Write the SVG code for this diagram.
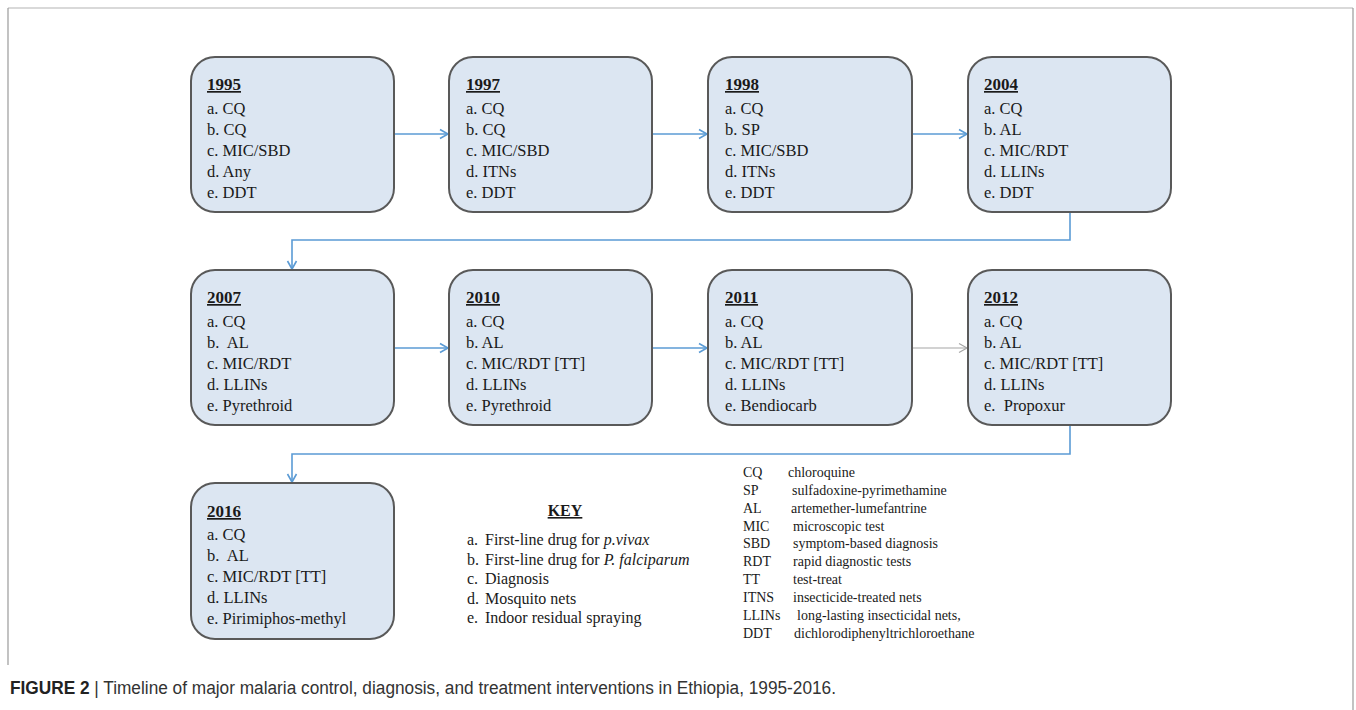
<svg xmlns="http://www.w3.org/2000/svg" width="1356" height="710" viewBox="0 0 1356 710">
<defs>
<style>
.box{fill:#dce6f2;stroke:#595959;stroke-width:2}
.t{font-family:"Liberation Serif","Times New Roman",serif;font-size:16.5px;fill:#1a1a1a;white-space:pre}
.yr{font-family:"Liberation Serif","Times New Roman",serif;font-size:17px;font-weight:bold;text-decoration:underline;fill:#1a1a1a}
.k{font-family:"Liberation Serif","Times New Roman",serif;font-size:16px;fill:#1a1a1a;white-space:pre}
.ab{font-family:"Liberation Serif","Times New Roman",serif;font-size:14px;fill:#1a1a1a}
.c{fill:none;stroke:#5b9bd5;stroke-width:1.6}
.cg{fill:none;stroke:#a6a6a6;stroke-width:1.2}
.cap{font-family:"Liberation Sans",Arial,sans-serif;font-size:18px;fill:#333}
</style>
<marker id="ah" markerWidth="12" markerHeight="12" refX="9" refY="6" orient="auto" markerUnits="userSpaceOnUse">
<path d="M1,1.5 L9,6 L1,10.5" fill="none" stroke="#5b9bd5" stroke-width="1.6"/>
</marker>
<marker id="ahg" markerWidth="12" markerHeight="12" refX="9" refY="6" orient="auto" markerUnits="userSpaceOnUse">
<path d="M1,1.5 L9,6 L1,10.5" fill="none" stroke="#a6a6a6" stroke-width="1.2"/>
</marker>
</defs>
<rect width="1356" height="710" fill="#fff"/>
<g id="frame">
<line x1="8" y1="8" x2="1353" y2="8" stroke="#cccccc" stroke-width="1.5"/>
<line x1="8" y1="8" x2="8" y2="665" stroke="#9a9a9a" stroke-width="1.2"/>
<line x1="1353" y1="8" x2="1353" y2="710" stroke="#9a9a9a" stroke-width="1.2"/>
</g>
<g id="connectors">
<line class="c" x1="394" y1="134" x2="448" y2="134" marker-end="url(#ah)"/>
<line class="c" x1="652" y1="134" x2="707" y2="134" marker-end="url(#ah)"/>
<line class="c" x1="912" y1="134" x2="967" y2="134" marker-end="url(#ah)"/>
<polyline class="c" points="1070,212 1070,240 292,240 292,269" marker-end="url(#ah)"/>
<line class="c" x1="394" y1="348" x2="448" y2="348" marker-end="url(#ah)"/>
<line class="c" x1="652" y1="348" x2="707" y2="348" marker-end="url(#ah)"/>
<line class="cg" x1="912" y1="348" x2="967" y2="348" marker-end="url(#ahg)"/>
<polyline class="c" points="1070,425 1070,454 292,454 292,482" marker-end="url(#ah)"/>
</g>
<g id="n1995">
<rect class="box" x="191" y="57" width="203" height="155" rx="24"/>
<text class="yr" x="207" y="90">1995</text>
<text class="t" x="207" y="114">a. CQ</text>
<text class="t" x="207" y="135">b. CQ</text>
<text class="t" x="207" y="156">c. MIC/SBD</text>
<text class="t" x="207" y="177">d. Any</text>
<text class="t" x="207" y="198">e. DDT</text>
</g>
<g id="n1997">
<rect class="box" x="449" y="57" width="203" height="155" rx="24"/>
<text class="yr" x="466" y="90">1997</text>
<text class="t" x="466" y="114">a. CQ</text>
<text class="t" x="466" y="135">b. CQ</text>
<text class="t" x="466" y="156">c. MIC/SBD</text>
<text class="t" x="466" y="177">d. ITNs</text>
<text class="t" x="466" y="198">e. DDT</text>
</g>
<g id="n1998">
<rect class="box" x="708" y="57" width="204" height="155" rx="24"/>
<text class="yr" x="725" y="90">1998</text>
<text class="t" x="725" y="114">a. CQ</text>
<text class="t" x="725" y="135">b. SP</text>
<text class="t" x="725" y="156">c. MIC/SBD</text>
<text class="t" x="725" y="177">d. ITNs</text>
<text class="t" x="725" y="198">e. DDT</text>
</g>
<g id="n2004">
<rect class="box" x="968" y="57" width="203" height="155" rx="24"/>
<text class="yr" x="984" y="90">2004</text>
<text class="t" x="984" y="114">a. CQ</text>
<text class="t" x="984" y="135">b. AL</text>
<text class="t" x="984" y="156">c. MIC/RDT</text>
<text class="t" x="984" y="177">d. LLINs</text>
<text class="t" x="984" y="198">e. DDT</text>
</g>
<g id="n2007">
<rect class="box" x="191" y="270" width="203" height="155" rx="24"/>
<text class="yr" x="207" y="303">2007</text>
<text class="t" x="207" y="327">a. CQ</text>
<text class="t" x="207" y="348">b.  AL</text>
<text class="t" x="207" y="369">c. MIC/RDT</text>
<text class="t" x="207" y="390">d. LLINs</text>
<text class="t" x="207" y="411">e. Pyrethroid</text>
</g>
<g id="n2010">
<rect class="box" x="449" y="270" width="203" height="155" rx="24"/>
<text class="yr" x="466" y="303">2010</text>
<text class="t" x="466" y="327">a. CQ</text>
<text class="t" x="466" y="348">b. AL</text>
<text class="t" x="466" y="369">c. MIC/RDT [TT]</text>
<text class="t" x="466" y="390">d. LLINs</text>
<text class="t" x="466" y="411">e. Pyrethroid</text>
</g>
<g id="n2011">
<rect class="box" x="708" y="270" width="204" height="155" rx="24"/>
<text class="yr" x="725" y="303">2011</text>
<text class="t" x="725" y="327">a. CQ</text>
<text class="t" x="725" y="348">b. AL</text>
<text class="t" x="725" y="369">c. MIC/RDT [TT]</text>
<text class="t" x="725" y="390">d. LLINs</text>
<text class="t" x="725" y="411">e. Bendiocarb</text>
</g>
<g id="n2012">
<rect class="box" x="968" y="270" width="203" height="155" rx="24"/>
<text class="yr" x="984" y="303">2012</text>
<text class="t" x="984" y="327">a. CQ</text>
<text class="t" x="984" y="348">b. AL</text>
<text class="t" x="984" y="369">c. MIC/RDT [TT]</text>
<text class="t" x="984" y="390">d. LLINs</text>
<text class="t" x="984" y="411">e.  Propoxur</text>
</g>
<g id="n2016">
<rect class="box" x="191" y="483" width="203" height="156" rx="24"/>
<text class="yr" x="207" y="517">2016</text>
<text class="t" x="207" y="540">a. CQ</text>
<text class="t" x="207" y="561">b.  AL</text>
<text class="t" x="207" y="582">c. MIC/RDT [TT]</text>
<text class="t" x="207" y="603">d. LLINs</text>
<text class="t" x="207" y="624">e. Pirimiphos-methyl</text>
</g>
<g id="key">
<text x="565" y="516" text-anchor="middle" font-family="Liberation Serif, serif" font-size="16" font-weight="bold" text-decoration="underline" fill="#1a1a1a">KEY</text>
<text class="k" x="467" y="545">a.</text><text class="k" x="485" y="545">First-line drug for <tspan font-style="italic">p.vivax</tspan></text>
<text class="k" x="467" y="565">b.</text><text class="k" x="485" y="565">First-line drug for <tspan font-style="italic">P. falciparum</tspan></text>
<text class="k" x="467" y="584">c.</text><text class="k" x="485" y="584">Diagnosis</text>
<text class="k" x="467" y="604">d.</text><text class="k" x="485" y="604">Mosquito nets</text>
<text class="k" x="467" y="623">e.</text><text class="k" x="485" y="623">Indoor residual spraying</text>
</g>
<g id="abbreviations">
<text class="ab" x="743" y="477">CQ</text><text class="ab" x="788" y="477">chloroquine</text>
<text class="ab" x="743" y="495">SP</text><text class="ab" x="792" y="495">sulfadoxine-pyrimethamine</text>
<text class="ab" x="743" y="513">AL</text><text class="ab" x="791" y="513">artemether-lumefantrine</text>
<text class="ab" x="743" y="531">MIC</text><text class="ab" x="793" y="531">microscopic test</text>
<text class="ab" x="743" y="548">SBD</text><text class="ab" x="793" y="548">symptom-based diagnosis</text>
<text class="ab" x="743" y="566">RDT</text><text class="ab" x="793" y="566">rapid diagnostic tests</text>
<text class="ab" x="743" y="584">TT</text><text class="ab" x="793" y="584">test-treat</text>
<text class="ab" x="743" y="602">ITNS</text><text class="ab" x="793" y="602">insecticide-treated nets</text>
<text class="ab" x="743" y="620">LLINs</text><text class="ab" x="797" y="620">long-lasting insecticidal nets,</text>
<text class="ab" x="743" y="638">DDT</text><text class="ab" x="794" y="638">dichlorodiphenyltrichloroethane</text>
</g>
<g id="caption">
<text class="cap" x="10" y="694" textLength="826" lengthAdjust="spacingAndGlyphs"><tspan font-weight="bold" fill="#222">FIGURE 2</tspan> | Timeline of major malaria control, diagnosis, and treatment interventions in Ethiopia, 1995-2016.</text>
</g>
</svg>
